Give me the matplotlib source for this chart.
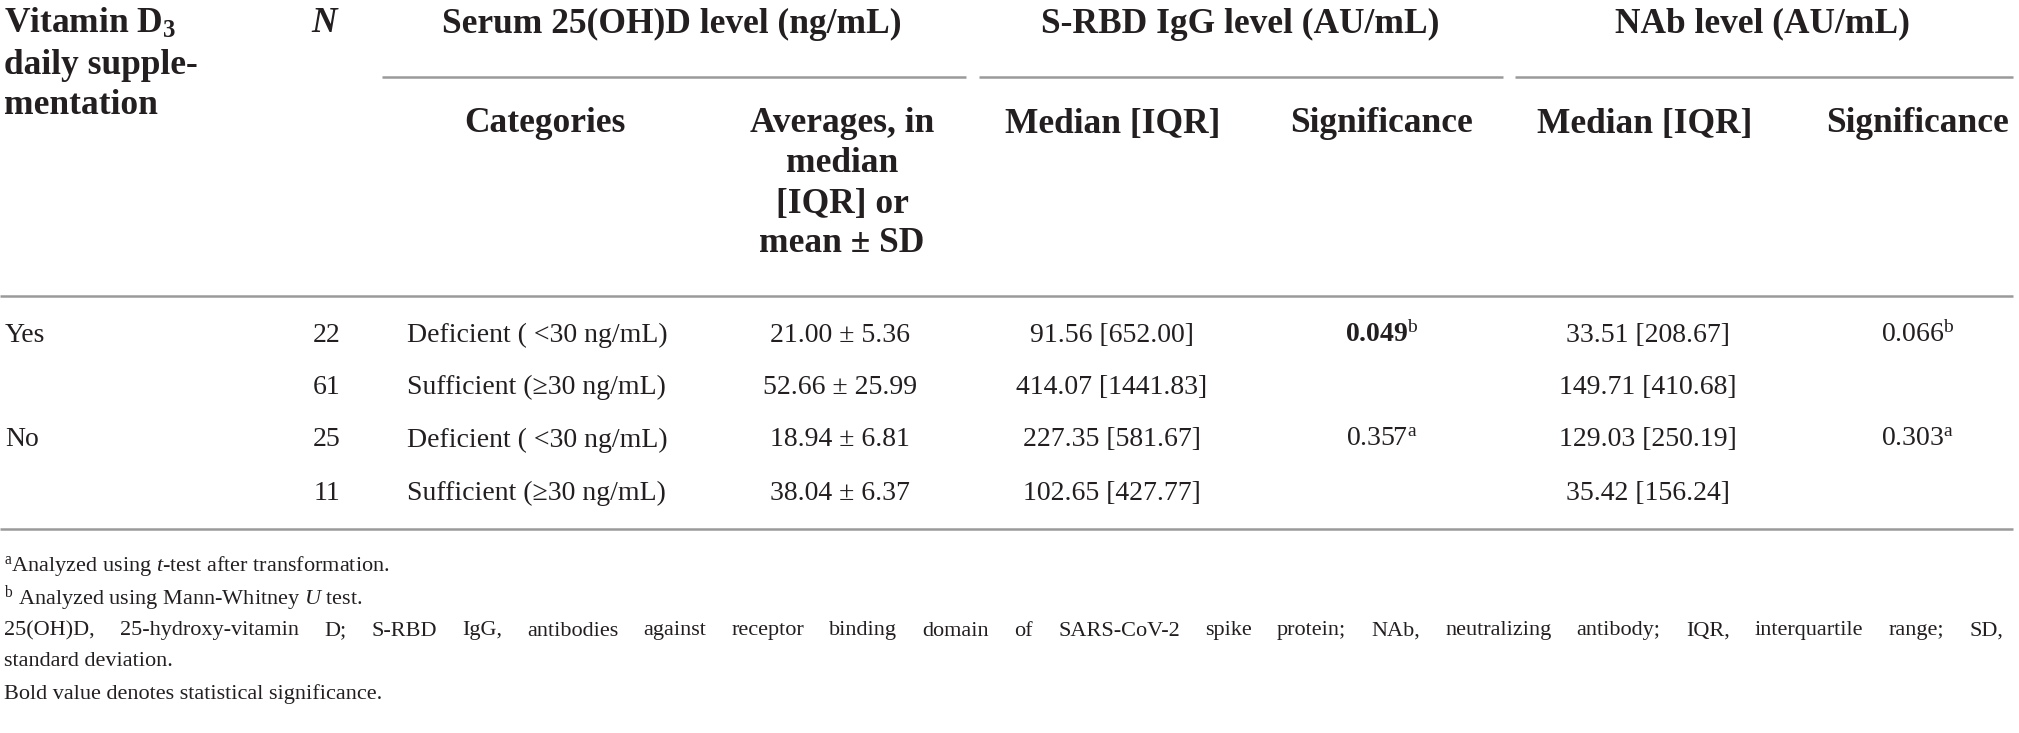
import matplotlib
matplotlib.use("Agg")
import matplotlib.pyplot as plt

plt.rcParams['font.family'] = ['Liberation Serif', 'DejaVu Serif']
plt.rcParams['mathtext.fontset'] = 'custom'
plt.rcParams['mathtext.rm'] = 'Liberation Serif'
plt.rcParams['mathtext.it'] = 'Liberation Serif:italic'
plt.rcParams['mathtext.bf'] = 'Liberation Serif:bold'

# ---- data ----
supplementation = ["Yes", "", "No", ""]
n_values = [22, 61, 25, 11]
categories = ["Deficient ( <30 ng/mL)", "Sufficient (\u226530 ng/mL)",
              "Deficient ( <30 ng/mL)", "Sufficient (\u226530 ng/mL)"]
vitd_mean = [21.00, 52.66, 18.94, 38.04]
vitd_sd = [5.36, 25.99, 6.81, 6.37]
srbd_median = [91.56, 414.07, 227.35, 102.65]
srbd_iqr = [652.00, 1441.83, 581.67, 427.77]
srbd_sig = ["0.049", "", "0.357", ""]
srbd_note = ["b", "", "a", ""]
srbd_bold = [True, False, False, False]
nab_median = [33.51, 149.71, 129.03, 35.42]
nab_iqr = [208.67, 410.68, 250.19, 156.24]
nab_sig = ["0.066", "", "0.303", ""]
nab_note = ["b", "", "a", ""]
nab_bold = [False, False, False, False]

row_header = ["Vitamin D$_\\mathbf{3}$", "daily supple-", "mentation"]
spanners = ["Serum 25(OH)D level (ng/mL)", "S-RBD IgG level (AU/mL)", "NAb level (AU/mL)"]
subheaders = [["Categories"], ["Averages, in", "median", "[IQR] or", "mean \u00b1 SD"],
              ["Median [IQR]"], ["Significance"], ["Median [IQR]"], ["Significance"]]
footnotes = [
    r"$^{\mathrm{a}}$Analyzed using $t$-test after transformation.",
    r"$^{\mathrm{b}}$ Analyzed using Mann-Whitney $U$ test.",
    "25(OH)D, 25-hydroxy-vitamin D; S-RBD IgG, antibodies against receptor binding domain of SARS-CoV-2 spike protein; NAb, neutralizing antibody; IQR, interquartile range; SD,",
    "standard deviation.",
    "Bold value denotes statistical significance.",
]
justified = [False, False, True, False, False]

# ---- layout ----
W, H = 2019, 733
fig = plt.figure(figsize=(W / 100, H / 100), dpi=100)
ax = fig.add_axes([0, 0, 1, 1])
ax.set_xlim(0, W)
ax.set_ylim(H, 0)
ax.axis("off")

TXT = "#231f20"
RULE = "#9a9a9a"
HS = 25.5  # header font size
BS = 20    # body font size
FS = 16    # footnote font size

# header
for k, s in enumerate(row_header):
    ax.text(4, 24 + k * 41, s, fontsize=HS, fontweight="bold", color=TXT, ha="left", va="center")
ax.text(324, 24, "N", fontsize=HS, fontweight="bold", fontstyle="italic", color=TXT,
        ha="center", va="center")
span_x = [672, 1240, 1762]
span_lines = [(382, 966), (979, 1503), (1515, 2013)]
for s, x, (x0, x1) in zip(spanners, span_x, span_lines):
    ax.text(x, 24, s, fontsize=HS, fontweight="bold", color=TXT, ha="center", va="center")
    ax.plot([x0, x1], [77, 77], color=RULE, lw=1.8, solid_capstyle="butt")

sub_x = [545, 842, 1113, 1382, 1645, 1918]
for lines, x in zip(subheaders, sub_x):
    for k, s in enumerate(lines):
        ax.text(x, 124 + k * 40, s, fontsize=HS, fontweight="bold", color=TXT,
                ha="center", va="center")

ax.plot([0, 2013], [296, 296], color=RULE, lw=1.8, solid_capstyle="butt")
ax.plot([0, 2013], [529, 529], color=RULE, lw=1.8, solid_capstyle="butt")

# body
row_y = [335, 387, 440, 493]
for i, y in enumerate(row_y):
    ax.text(5, y, supplementation[i], fontsize=BS, color=TXT, ha="left", va="center")
    ax.text(340, y, f"{n_values[i]}", fontsize=BS, color=TXT, ha="right", va="center")
    ax.text(407, y, categories[i], fontsize=BS, color=TXT, ha="left", va="center")
    ax.text(840, y, f"{vitd_mean[i]:.2f} \u00b1 {vitd_sd[i]:.2f}", fontsize=BS, color=TXT,
            ha="center", va="center")
    ax.text(1112, y, f"{srbd_median[i]:.2f} [{srbd_iqr[i]:.2f}]", fontsize=BS, color=TXT,
            ha="center", va="center")
    ax.text(1648, y, f"{nab_median[i]:.2f} [{nab_iqr[i]:.2f}]", fontsize=BS, color=TXT,
            ha="center", va="center")
    for sig, note, bold, x in ((srbd_sig[i], srbd_note[i], srbd_bold[i], 1382),
                               (nab_sig[i], nab_note[i], nab_bold[i], 1918)):
        if sig:
            if bold:
                s = r"$\mathbf{" + sig + r"}^{\mathrm{" + note + r"}}$"
            else:
                s = sig + r"$^{\mathrm{" + note + r"}}$"
            ax.text(x, y, s, fontsize=BS, color=TXT, ha="center", va="center")

# footnotes
foot_y = [566, 599, 631, 662, 694]
renderer = fig.canvas.get_renderer()
x_left, x_right = 4, 2003
for s, y, just in zip(footnotes, foot_y, justified):
    if not just:
        ax.text(x_left, y, s, fontsize=FS, color=TXT, ha="left", va="center")
        continue
    words = s.split(" ")
    arts = [ax.text(0, y, w, fontsize=FS, color=TXT, ha="left", va="center") for w in words]
    widths = [a.get_window_extent(renderer).width for a in arts]
    gap = (x_right - x_left - sum(widths)) / (len(words) - 1)
    x = x_left
    for a, w in zip(arts, widths):
        a.set_x(x)
        x += w + gap

fig.savefig("out.png", dpi=100, facecolor="white")
